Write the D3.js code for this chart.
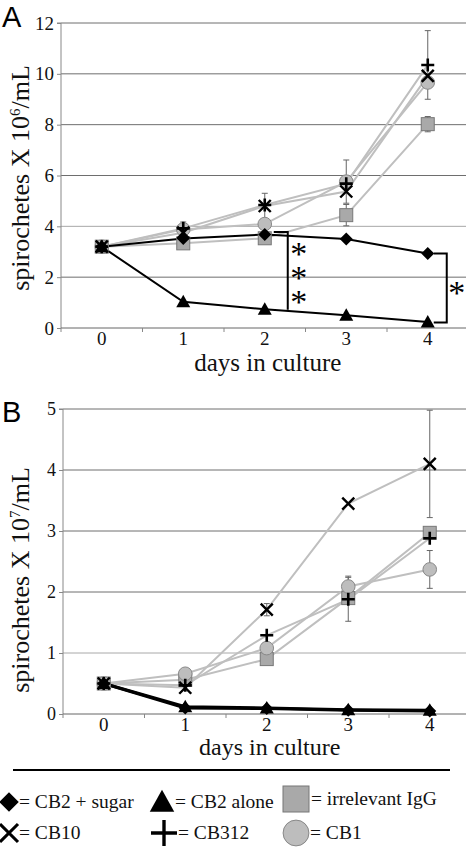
<!DOCTYPE html>
<html><head><meta charset="utf-8">
<script src="https://cdn.jsdelivr.net/npm/d3@7"></script>
<style>body{margin:0;background:#fff}svg{display:block}</style>
</head><body>
<script>
// ---- data ----
const days = [0, 1, 2, 3, 4];
const seriesNames = ["CB2 + sugar", "CB2 alone", "irrelevant IgG", "CB10", "CB312", "CB1"];
const seriesKeys = ["sugar", "alone", "igg", "cb10", "cb312", "cb1"];

// Panel A (x10^6/mL)
const aSugar = [3.2, 3.52, 3.68, 3.5, 2.93];
const aAlone = [3.2, 1.03, 0.74, 0.5, 0.24];
const aIgg   = [3.2, 3.33, 3.53, 4.44, 8.02];
const aCb10  = [3.2, 3.75, 4.8, 5.37, 9.92];
const aCb312 = [3.2, 3.92, 4.84, 5.68, 10.35];
const aCb1   = [3.2, 3.88, 4.09, 5.76, 9.66];
const aErrIgg   = [0, 0, 0, 0.42, 0.3];
const aErrCb10  = [0, 0, 0.5, 0, 0];
const aErrCb312 = [0, 0.25, 0, 0, 1.35];
const aErrCb1   = [0, 0, 0, 0.85, 0];
const aTicks = [0, 2, 4, 6, 8, 10, 12];

// Panel B (x10^7/mL)
const bSugar = [0.5, 0.1, 0.09, 0.06, 0.05];
const bAlone = [0.5, 0.12, 0.1, 0.07, 0.06];
const bIgg   = [0.5, 0.56, 0.9, 1.9, 2.97];
const bCb10  = [0.5, 0.43, 1.71, 3.45, 4.1];
const bCb312 = [0.5, 0.47, 1.29, 1.88, 2.88];
const bCb1   = [0.5, 0.66, 1.08, 2.09, 2.37];
const bErrCb10  = [0, 0, 0.1, 0, 0.88];
const bErrCb312 = [0, 0, 0, 0.36, 0];
const bErrCb1   = [0, 0, 0, 0.17, 0.31];
const bTicks = [0, 1, 2, 3, 4, 5];

// significance brackets panel A
const sigA = [
  { day: 2, top: 3.78, bottom: 0.72, stars: "***" },
  { day: 4, top: 2.93, bottom: 0.22, stars: "*" }
];

// ---- drawing ----
const W = 466, H = 854;
const svg = d3.select("body").append("svg").attr("width", W).attr("height", H);
const serif = "Liberation Serif, Times New Roman, serif";
const sans = "Liberation Sans, Arial, sans-serif";

function marker(g, key, x, y, scale) {
  const s = scale || 1;
  if (key === "sugar") {
    g.append("path").attr("d", `M${x},${y-6.5*s}L${x+6.5*s},${y}L${x},${y+6.5*s}L${x-6.5*s},${y}Z`).attr("fill", "#000");
  } else if (key === "alone") {
    g.append("path").attr("d", `M${x},${y-7*s}L${x+7*s},${y+5.5*s}L${x-7*s},${y+5.5*s}Z`).attr("fill", "#000");
  } else if (key === "igg") {
    g.append("rect").attr("x", x-6.5*s).attr("y", y-6.5*s).attr("width", 13*s).attr("height", 13*s)
      .attr("fill", "#a9a9a9").attr("stroke", "#777").attr("stroke-width", 1);
  } else if (key === "cb1") {
    g.append("circle").attr("cx", x).attr("cy", y).attr("r", 6.8*s).attr("fill", "#bdbdbd").attr("stroke", "#888").attr("stroke-width", 1);
  } else if (key === "cb10") {
    const d = 6*s;
    g.append("path").attr("d", `M${x-d},${y-d}L${x+d},${y+d}M${x-d},${y+d}L${x+d},${y-d}`).attr("stroke", "#000").attr("stroke-width", 2.4*Math.min(s,1.3));
  } else if (key === "cb312") {
    const d = 6.5*s;
    g.append("path").attr("d", `M${x-d},${y}L${x+d},${y}M${x},${y-d}L${x},${y+d}`).attr("stroke", "#000").attr("stroke-width", 2.6*Math.min(s,1.3));
  }
}

function panel(cfg) {
  const g = svg.append("g");
  const x = d3.scaleBand().domain(days).range([cfg.x0, cfg.x0 + 407.5]).padding(0);
  const cx = d => x(d) + x.bandwidth() / 2;
  const y = d3.scaleLinear().domain([0, cfg.max]).range([cfg.yBottom, cfg.yTop]);

  g.selectAll(".grid").data(cfg.ticks.filter(t => t > 0)).join("line")
    .attr("x1", cfg.x0).attr("x2", W).attr("y1", d => y(d)).attr("y2", d => y(d))
    .attr("stroke", d => d === cfg.lightGrid ? "#a8a8a8" : "#6e6e6e").attr("stroke-width", 1);

  const ya = d3.axisLeft(y).tickValues(cfg.ticks).tickSize(4).tickPadding(3).tickFormat(d3.format("d"));
  const yg = g.append("g").attr("transform", `translate(${cfg.x0},0)`).call(ya);
  yg.select(".domain").attr("stroke", "#888").attr("d", `M-4,${cfg.yTop}H0V${cfg.yBottom}`);
  yg.selectAll(".tick line").attr("stroke", "#888");
  yg.selectAll("text").attr("font-family", serif).attr("font-size", cfg.yFont).attr("fill", "#111");

  g.append("line").attr("x1", cfg.x0).attr("x2", W).attr("y1", cfg.yBottom).attr("y2", cfg.yBottom).attr("stroke", "#666");
  g.selectAll(".xt").data(days).join("line")
    .attr("x1", d => x(d)).attr("x2", d => x(d)).attr("y1", cfg.yBottom).attr("y2", cfg.yBottom + 4)
    .attr("stroke", "#888");
  g.selectAll(".xl").data(days).join("text")
    .attr("x", d => cx(d)).attr("y", cfg.yBottom + 17).attr("text-anchor", "middle")
    .attr("font-family", serif).attr("font-size", 19).attr("fill", "#111").text(d => d);

  g.append("text").attr("x", cx(2) + 3).attr("y", cfg.yBottom + cfg.xtOff).attr("text-anchor", "middle")
    .attr("font-family", serif).attr("font-size", cfg.xtFont).attr("fill", "#111").text("days in culture");
  const yt = g.append("text").attr("transform", `translate(${cfg.titleX},${cfg.titleY}) rotate(-90)`)
    .attr("text-anchor", "middle").attr("font-family", serif).attr("font-size", 26).attr("fill", "#111");
  yt.append("tspan").text("spirochetes X 10");
  yt.append("tspan").attr("dy", -9).attr("font-size", 15).text(cfg.exp);
  yt.append("tspan").attr("dy", 9).text("/mL");
  g.append("text").attr("x", 2).attr("y", cfg.letterY).attr("font-family", sans).attr("font-size", 29)
    .attr("fill", "#000").text(cfg.letter);

  const line = d3.line().x((d, i) => cx(days[i])).y(d => y(d));
  ["igg", "cb10", "cb312", "cb1"].forEach(k => {
    g.append("path").attr("d", line(cfg.data[k])).attr("fill", "none").attr("stroke", "#bfbfbf").attr("stroke-width", 2);
  });
  ["sugar", "alone"].forEach(k => {
    g.append("path").attr("d", line(cfg.data[k])).attr("fill", "none").attr("stroke", "#000").attr("stroke-width", cfg.blackW);
  });
  Object.keys(cfg.err).forEach(k => {
    cfg.err[k].forEach((e, i) => {
      if (!e) return;
      const v = cfg.data[k][i], px = cx(days[i]);
      g.append("path").attr("d", `M${px},${y(v+e)}V${y(v-e)}M${px-3},${y(v+e)}H${px+3}M${px-3},${y(v-e)}H${px+3}`)
        .attr("stroke", "#666").attr("stroke-width", 1).attr("fill", "none");
    });
  });
  ["igg", "cb1", "sugar", "alone", "cb10", "cb312"].forEach(k => {
    cfg.data[k].forEach((v, i) => marker(g, k, cx(days[i]), y(v), 1));
  });
  return { g, x, y, cx };
}

const A = panel({
  x0: 61, yTop: 23, yBottom: 328, max: 12, ticks: aTicks, lightGrid: 4, yFont: 19, xtOff: 43, xtFont: 25,
  titleX: 29, titleY: 178, exp: "6", letter: "A", letterY: 27, blackW: 2,
  data: { sugar: aSugar, alone: aAlone, igg: aIgg, cb10: aCb10, cb312: aCb312, cb1: aCb1 },
  err: { igg: aErrIgg, cb10: aErrCb10, cb312: aErrCb312, cb1: aErrCb1 }
});
const B = panel({
  x0: 63, yTop: 409, yBottom: 714, max: 5, ticks: bTicks, lightGrid: 1, yFont: 18, xtOff: 41, xtFont: 24,
  titleX: 29, titleY: 580, exp: "7", letter: "B", letterY: 422, blackW: 3,
  data: { sugar: bSugar, alone: bAlone, igg: bIgg, cb10: bCb10, cb312: bCb312, cb1: bCb1 },
  err: { cb10: bErrCb10, cb312: bErrCb312, cb1: bErrCb1 }
});

// significance brackets
sigA.forEach(s => {
  const bx = s.day === 4 ? A.cx(s.day) + 19 : A.cx(s.day) + 23;
  const ty = A.y(s.top), by = A.y(s.bottom);
  A.g.append("path").attr("d", s.day === 4
      ? `M${bx-13},${ty}H${bx}V${by}H${bx-13}`
      : `M${bx-14},${ty}H${bx}V${by}`)
    .attr("fill", "none").attr("stroke", "#000").attr("stroke-width", 2);
  const mid = (ty + by) / 2;
  if (s.stars.length > 1) {
    A.g.append("text")
      .attr("x", bx + 11).attr("y", mid)
      .attr("text-anchor", "middle")
      .style("writing-mode", "vertical-rl").style("text-orientation", "upright")
      .style("letter-spacing", "-13px")
      .attr("font-family", serif).attr("font-size", 34).attr("fill", "#000")
      .text(s.stars);
  } else {
    A.g.append("text")
      .attr("x", bx + 10).attr("y", mid + 16)
      .attr("text-anchor", "middle")
      .attr("font-family", serif).attr("font-size", 34).attr("fill", "#000")
      .text(s.stars);
  }
});

// legend
svg.append("line").attr("x1", 13).attr("x2", 450).attr("y1", 770).attr("y2", 770).attr("stroke", "#000").attr("stroke-width", 2);
const legPos = [[9, 802], [162, 802], [296, 799], [9, 833], [164, 833], [296, 833]];
const legTextX = [19, 175, 311, 19, 178, 310];
const legScale = [1.5, 1.75, 2.0, 1.5, 2.0, 1.9];
seriesKeys.forEach((k, i) => {
  const [lx, ly] = legPos[i];
  const lg = svg.append("g");
  marker(lg, k, lx, ly, legScale[i]);
  svg.append("text").attr("x", legTextX[i]).attr("y", ly + 6).attr("font-family", serif).attr("font-size", 19.5)
    .attr("fill", "#111").text("= " + seriesNames[i]);
});
</script>
</body></html>
